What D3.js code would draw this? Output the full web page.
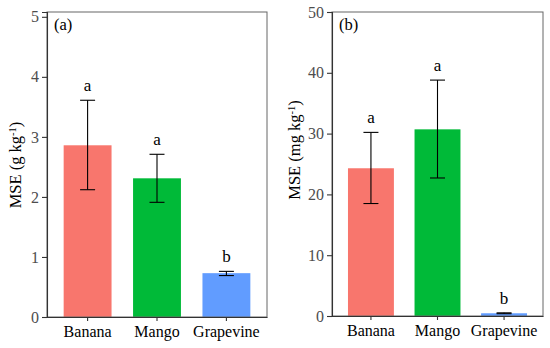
<!DOCTYPE html>
<html>
<head>
<meta charset="utf-8">
<script src="https://cdn.jsdelivr.net/npm/d3@7"></script>
<style>
  body { margin: 0; background: #fff; }
  text { font-family: "Liberation Serif", "Times New Roman", serif; }
</style>
</head>
<body>
<div id="chart"></div>
<script>
// data
const crops = ["Banana", "Mango", "Grapevine"];
const colors = ["#F8766D", "#00BA38", "#619CFF"];

const mseA = [2.86, 2.31, 0.73];
const lowA = [2.12, 1.91, 0.69];
const highA = [3.61, 2.71, 0.76];
const lettersA = ["a", "a", "b"];
const ticksA = [0, 1, 2, 3, 4, 5];

const mseB = [24.3, 30.7, 0.45];
const lowB = [18.5, 22.7, 0.38];
const highB = [30.2, 38.8, 0.52];
const lettersB = ["a", "a", "b"];
const ticksB = [0, 10, 20, 30, 40, 50];

let svg = d3.select("#chart")
    .append("svg")
    .attr("width", 550)
    .attr("height", 348);

function panel(opts) {
    let x = d3.scaleBand()
        .domain(crops)
        .range([opts.left, opts.right])
        .paddingInner(0.31)
        .paddingOuter(0.24);

    let y = d3.scaleLinear()
        .domain([0, opts.ymax])
        .range([opts.bottom, opts.top]);

    let g = svg.append("g");

    // bars
    g.selectAll(".bar")
        .data(crops)
        .enter()
        .append("rect")
        .attr("x", d => x(d))
        .attr("width", x.bandwidth())
        .attr("y", (d, i) => y(opts.mse[i]))
        .attr("height", (d, i) => y(0) - y(opts.mse[i]))
        .attr("fill", (d, i) => colors[i]);

    // error bars
    let eb = g.selectAll(".err")
        .data(crops)
        .enter()
        .append("g")
        .attr("stroke", "#000")
        .attr("stroke-width", 1.1);
    eb.append("line")
        .attr("x1", d => x(d) + x.bandwidth() / 2)
        .attr("x2", d => x(d) + x.bandwidth() / 2)
        .attr("y1", (d, i) => y(opts.low[i]))
        .attr("y2", (d, i) => y(opts.high[i]));
    eb.append("line")
        .attr("x1", d => x(d) + x.bandwidth() / 2 - 7.5)
        .attr("x2", d => x(d) + x.bandwidth() / 2 + 7.5)
        .attr("y1", (d, i) => y(opts.high[i]))
        .attr("y2", (d, i) => y(opts.high[i]));
    eb.append("line")
        .attr("x1", d => x(d) + x.bandwidth() / 2 - 7.5)
        .attr("x2", d => x(d) + x.bandwidth() / 2 + 7.5)
        .attr("y1", (d, i) => y(opts.low[i]))
        .attr("y2", (d, i) => y(opts.low[i]));

    // significance letters
    g.selectAll(".letter")
        .data(crops)
        .enter()
        .append("text")
        .attr("x", d => x(d) + x.bandwidth() / 2)
        .attr("y", (d, i) => y(opts.high[i]) - 9)
        .attr("text-anchor", "middle")
        .style("font-size", "17px")
        .attr("fill", "#000")
        .text((d, i) => opts.letters[i]);

    // frame
    g.append("rect")
        .attr("x", opts.left)
        .attr("y", opts.top)
        .attr("width", opts.right - opts.left)
        .attr("height", opts.bottom - opts.top)
        .attr("fill", "none")
        .attr("stroke", "#666")
        .attr("stroke-width", 1);

    // axes
    let yAxis = g.append("g")
        .attr("transform", `translate(${opts.left},0)`)
        .call(d3.axisLeft(y).tickValues(opts.ticks).tickFormat(d3.format("d")).tickSize(5).tickPadding(3));
    let xAxis = g.append("g")
        .attr("transform", `translate(0,${opts.bottom})`)
        .call(d3.axisBottom(x).tickSize(4).tickPadding(5).tickSizeOuter(0));

    [yAxis, xAxis].forEach(ax => {
        ax.select(".domain").attr("stroke", "#333").attr("stroke-width", 1.1);
        ax.selectAll(".tick line").attr("stroke", "#333").attr("stroke-width", 1.1);
        ax.selectAll("text")
            .style("font-family", '"Liberation Serif", "Times New Roman", serif')
            .style("font-size", "16px");
    });
    yAxis.selectAll("text").attr("fill", "#4d4d4d");
    xAxis.selectAll("text").attr("fill", "#000");

    // panel tag
    g.append("text")
        .attr("x", opts.left + 7)
        .attr("y", opts.top + 18)
        .style("font-size", "16.5px")
        .text(opts.tag);

    // y label
    let lab = g.append("text")
        .attr("transform", `translate(${opts.labelX},${opts.labelY}) rotate(-90)`)
        .attr("text-anchor", "middle")
        .style("font-size", "16.5px");
    lab.append("tspan").text(opts.unit[0]);
    lab.append("tspan").attr("baseline-shift", "super").style("font-size", "10.5px").text("-1");
    lab.append("tspan").text(")");
}

panel({
    left: 47, right: 267, top: 12, bottom: 317, ymax: 5.08,
    mse: mseA, low: lowA, high: highA, letters: lettersA, ticks: ticksA,
    tag: "(a)", unit: ["MSE (g kg"], labelX: 21, labelY: 165
});

panel({
    left: 332, right: 543, top: 12, bottom: 316, ymax: 50,
    mse: mseB, low: lowB, high: highB, letters: lettersB, ticks: ticksB,
    tag: "(b)", unit: ["MSE (mg kg"], labelX: 300, labelY: 150
});
</script>
</body>
</html>
